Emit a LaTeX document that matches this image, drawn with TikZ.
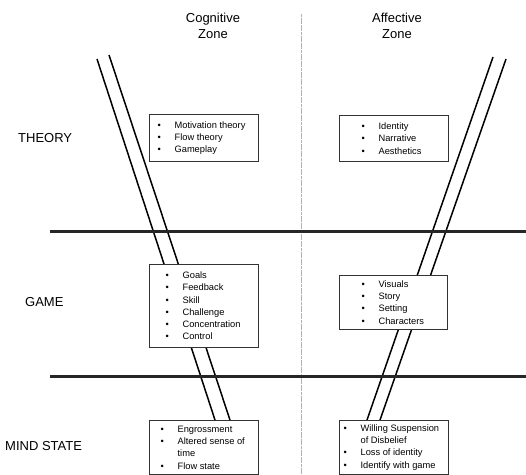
\documentclass[tikz,border=0pt]{standalone}
\usepackage{fontspec}
\setmainfont{Liberation Sans}
\newcommand\itm[1]{\makebox[17pt][l]{\textbullet}#1}
\newcommand\cont[1]{\hspace*{17pt}#1}
\begin{document}
\begin{tikzpicture}[x=1pt,y=-1pt,
  boxstyle/.style={draw=black!80, line width=0.8pt, fill=white, inner sep=0pt, anchor=north west},
  listtext/.style={anchor=west, inner sep=0pt, align=left, font=\fontsize{9.3}{12.3}\selectfont},
  title/.style={font=\fontsize{13}{16}\selectfont, align=center, inner sep=0pt},
  rowlabel/.style={font=\fontsize{13}{16}\selectfont, anchor=west, inner sep=0pt},
  band/.style={line width=3pt, black!85},
  rail/.style={line width=1.5pt, black},
  divider/.style={line width=0.8pt, gray!60, dash pattern=on 3pt off 0.6pt}]
\useasboundingbox (0,0) rectangle (526,474);

% titles and row labels
\node[title] (cogt) at (213,26) {Cognitive\\Zone};
\node[title] (afft) at (397,26) {Affective\\Zone};
\node[rowlabel] (theory) at (18,138) {THEORY};
\node[rowlabel] (game) at (25,302) {GAME};
\node[rowlabel] (mind) at (5,446) {MIND STATE};

% divider
\coordinate (dtop) at (301,14);
\coordinate (dbot) at (301,474);
\draw[divider] (dtop) -- (dbot);

% rails
\coordinate (l1a) at (97,59);  \coordinate (l1b) at (215,420);
\coordinate (l2a) at (109,55); \coordinate (l2b) at (230,420);
\coordinate (r1a) at (493,57); \coordinate (r1b) at (367,420);
\coordinate (r2a) at (506,59); \coordinate (r2b) at (380,420);
\draw[rail] (l1a) -- (l1b);
\draw[rail] (l2a) -- (l2b);
\draw[rail] (r1a) -- (r1b);
\draw[rail] (r2a) -- (r2b);

% bands
\coordinate (b1a) at (50,231); \coordinate (b1b) at (526,231);
\coordinate (b2a) at (50,376); \coordinate (b2b) at (526,376);
\draw[band] (b1a) -- (b1b);
\draw[band] (b2a) -- (b2b);

% boxes
\node[boxstyle, minimum width=109pt, minimum height=47pt] (tc) at (149,114) {};
\node[boxstyle, minimum width=109pt, minimum height=46pt] (ta) at (339,115) {};
\node[boxstyle, minimum width=109pt, minimum height=83pt] (gc) at (149,264) {};
\node[boxstyle, minimum width=108pt, minimum height=54pt] (ga) at (339,275) {};
\node[boxstyle, minimum width=109pt, minimum height=54pt] (mc) at (149,420) {};
\node[boxstyle, minimum width=109pt, minimum height=54pt] (ma) at (339,420) {};

% box texts
\node[listtext] (tct) at ([xshift=8.4pt]tc.west) {\itm{Motivation theory}\\\itm{Flow theory}\\\itm{Gameplay}};
\node[listtext] (tat) at ([xshift=22.4pt]ta.west) {\itm{Identity}\\\itm{Narrative}\\\itm{Aesthetics}};
\node[listtext] (gct) at ([xshift=16.4pt]gc.west) {\itm{Goals}\\\itm{Feedback}\\\itm{Skill}\\\itm{Challenge}\\\itm{Concentration}\\\itm{Control}};
\node[listtext] (gat) at ([xshift=22.4pt]ga.west) {\itm{Visuals}\\\itm{Story}\\\itm{Setting}\\\itm{Characters}};
\node[listtext] (mct) at ([xshift=11.4pt]mc.west) {\itm{Engrossment}\\\itm{Altered sense of}\\\cont{time}\\\itm{Flow state}};
\node[listtext] (mat) at ([xshift=4.4pt]ma.west) {\itm{Willing Suspension}\\\cont{of Disbelief}\\\itm{Loss of identity}\\\itm{Identify with game}};
\end{tikzpicture}
\end{document}
